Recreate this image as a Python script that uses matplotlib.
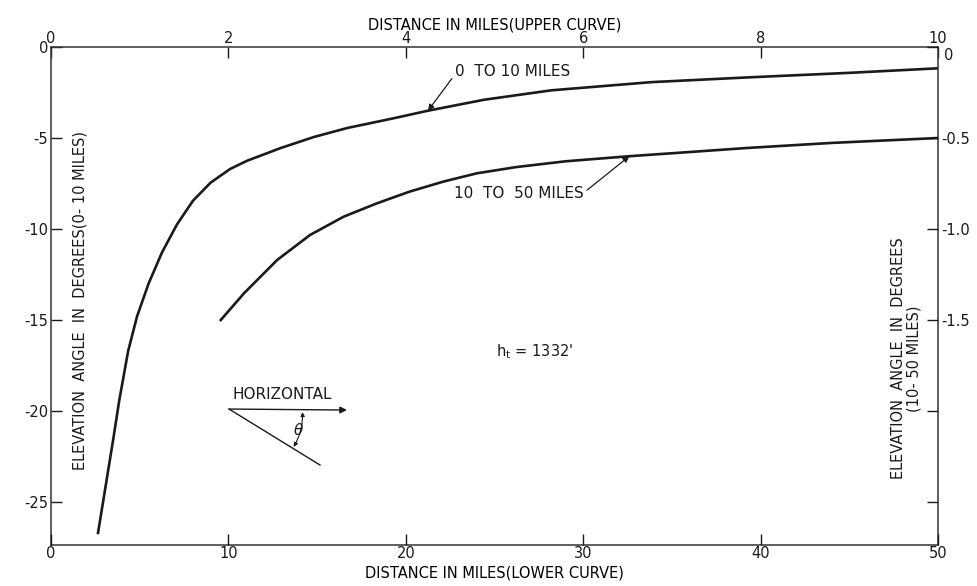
import numpy as np
import matplotlib
matplotlib.use('Agg')
import matplotlib.pyplot as plt
import matplotlib.transforms as mtransforms

# upper curve: 0 to 10 miles (top x axis, left y axis)
upper_dist = [0.53, 0.61, 0.70, 0.77, 0.87, 0.97, 1.10, 1.25, 1.42, 1.60, 1.80, 2.02, 2.21,
              2.59, 2.96, 3.34, 3.83, 4.25, 4.88, 5.64, 6.77, 7.9, 9.0, 10.0]
upper_angle = [-26.7, -24.3, -21.6, -19.4, -16.7, -14.8, -13.0, -11.3, -9.75, -8.45, -7.45, -6.70,
               -6.25, -5.55, -4.95, -4.45, -3.95, -3.5, -2.9, -2.38, -1.93, -1.66, -1.42, -1.17]

# lower curve: 10 to 50 miles (bottom x axis, right y axis)
lower_dist = [9.57, 10.88, 12.75, 14.6, 16.5, 18.37, 20.2, 22.1, 24.0, 26.2, 29.0, 32.6,
              36.0, 39.2, 44.0, 50.0]
lower_angle = [-1.50, -1.353, -1.17, -1.033, -0.932, -0.859, -0.795, -0.74, -0.694, -0.66,
               -0.628, -0.600, -0.577, -0.555, -0.527, -0.50]

top_ticks = [0, 2, 4, 6, 8, 10]
left_ticks = [0, -5, -10, -15, -20, -25]
left_labels = ['0', '-5', '-10', '-15', '-20', '-25']
bottom_ticks = [0, 10, 20, 30, 40, 50]
right_ticks = [0, -0.5, -1.0, -1.5, -2.0, -2.5]
right_labels = ['0', '-0.5', '-1.0', '-1.5', '', '']


def main():
    plt.rcParams['font.family'] = ['DejaVu Sans']
    fig = plt.figure(figsize=(9.77, 5.86), dpi=100)
    rect = [51 / 977, 41 / 586, 887 / 977, 498 / 586]
    ink = '#1a1a1a'

    ax = fig.add_axes(rect)
    ax.set_xlim(0, 10)
    ax.set_ylim(-27.36, 0)
    ax.plot(upper_dist, upper_angle, color=ink, lw=1.9, solid_joinstyle='round')
    ax.xaxis.tick_top()
    ax.set_xticks(top_ticks)
    ax.set_xticklabels([str(t) for t in top_ticks])
    ax.set_yticks(left_ticks)
    ax.set_yticklabels(left_labels)
    ax.tick_params(direction='in', length=8, width=1, colors=ink, labelsize=10.5, pad=2)
    ax.tick_params(axis='x', pad=1)
    for s in ax.spines.values():
        s.set_color('#333333')
        s.set_linewidth(1.1)
    ax.set_xlabel('DISTANCE IN MILES(UPPER CURVE)', fontsize=10.5, labelpad=1)
    ax.xaxis.set_label_position('top')

    ax2 = fig.add_axes(rect, frameon=False)
    ax2.patch.set_visible(False)
    ax2.set_xlim(0, 50)
    ax2.set_ylim(-2.736, 0)
    ax2.plot(lower_dist, lower_angle, color=ink, lw=1.9, solid_joinstyle='round')
    ax2.yaxis.tick_right()
    ax2.set_xticks(bottom_ticks)
    ax2.set_xticklabels([str(t) for t in bottom_ticks])
    ax2.set_yticks(right_ticks)
    ax2.set_yticklabels(right_labels)
    ax2.tick_params(direction='in', length=8, width=1, colors=ink, labelsize=10.5, pad=2)
    ax2.tick_params(axis='x', pad=1)
    ax2.set_xlabel('DISTANCE IN MILES(LOWER CURVE)', fontsize=10.5, labelpad=3)

    # nudge the right-hand "0" so it does not sit on top of the upper "10"
    zero_lbl = ax2.get_yticklabels()[0]
    zero_lbl.set_transform(zero_lbl.get_transform()
                           + mtransforms.ScaledTranslation(2 / 72, -5 / 72, fig.dpi_scale_trans))

    # y axis titles sit inside the frame
    ax.text(0.033, 0.49, 'ELEVATION  ANGLE  IN  DEGREES(0- 10 MILES)', transform=ax.transAxes,
            rotation=90, ha='center', va='center', fontsize=10.5, color=ink)
    ax.text(0.964, 0.375, 'ELEVATION  ANGLE  IN  DEGREES\n(10- 50 MILES)', transform=ax.transAxes,
            rotation=90, ha='center', va='center', fontsize=10.5, color=ink,
            multialignment='center', linespacing=1.0)

    arrow = dict(arrowstyle='-|>', color=ink, lw=0.9, mutation_scale=9, shrinkA=0, shrinkB=0)
    ax.annotate('0  TO 10 MILES', xy=(4.25, np.interp(4.25, upper_dist, upper_angle)),
                xytext=(0.52, 0.95), textcoords='axes fraction', ha='center', va='center',
                fontsize=11, color=ink, arrowprops=dict(arrow, relpos=(0.0, 0.3)))
    ax2.annotate('10  TO  50 MILES', xy=(32.6, np.interp(32.6, lower_dist, lower_angle)),
                 xytext=(0.528, 0.705), textcoords='axes fraction', ha='center', va='center',
                 fontsize=11, color=ink, arrowprops=dict(arrow, relpos=(1.0, 0.6)))

    ax.text(0.545, 0.388, "h$_{\\mathrm{t}}$ = 1332'", transform=ax.transAxes,
            ha='center', va='center', fontsize=10.5, color=ink)

    # horizontal / theta sketch
    ax.annotate('', xy=(0.3337, 0.271), xytext=(0.2007, 0.273), xycoords='axes fraction',
                arrowprops=dict(arrowstyle='-|>', color=ink, lw=1.0, mutation_scale=10,
                                shrinkA=0, shrinkB=0))
    ax.plot([0.2007, 0.3033], [0.273, 0.1606], transform=ax.transAxes, color=ink, lw=1.0)
    ax.text(0.2604, 0.302, 'HORIZONTAL', transform=ax.transAxes, ha='center', va='center',
            fontsize=11, color=ink)
    ax.text(0.2785, 0.231, r'$\theta$', transform=ax.transAxes, ha='center', va='center',
            fontsize=11, color=ink)
    ax.annotate('', xy=(0.2735, 0.197), xytext=(0.2835, 0.267), xycoords='axes fraction',
                arrowprops=dict(arrowstyle='<|-|>', color=ink, lw=0.8, mutation_scale=6,
                                shrinkA=0, shrinkB=0, connectionstyle='arc3,rad=-0.15'))

    fig.savefig('out.png', dpi=100)
    print('donzo')


if __name__ == '__main__':
    main()
